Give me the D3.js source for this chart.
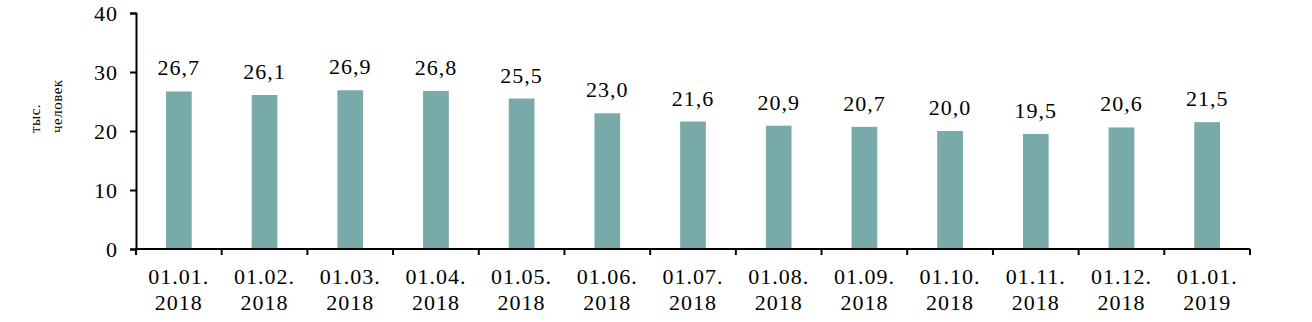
<!DOCTYPE html>
<html>
<head>
<meta charset="utf-8">
<script src="https://cdn.jsdelivr.net/npm/d3@7"></script>
<style>
  body { margin: 0; background: #fff; }
  svg text { font-family: "Times New Roman", "Liberation Serif", Tinos, serif !important; fill: #000; }
</style>
</head>
<body>
<div id="chart"></div>
<script>
// dates (two lines each) and values, thousand people
var dates = ["01.01.", "01.02.", "01.03.", "01.04.", "01.05.", "01.06.", "01.07.", "01.08.", "01.09.", "01.10.", "01.11.", "01.12.", "01.01."];
var years = ["2018", "2018", "2018", "2018", "2018", "2018", "2018", "2018", "2018", "2018", "2018", "2018", "2019"];
var values = [26.7, 26.1, 26.9, 26.8, 25.5, 23.0, 21.6, 20.9, 20.7, 20.0, 19.5, 20.6, 21.5];
var yTicks = [0, 10, 20, 30, 40];

let width = 1312, height = 322;
let plotLeft = 136, plotRight = 1250, plotTop = 13, plotBottom = 249;

let svg = d3.select('#chart')
  .append('svg')
  .attr('width', width)
  .attr('height', height);

let x = d3.scaleBand()
  .domain(d3.range(values.length))
  .range([plotLeft, plotRight])
  .paddingInner(0.7)
  .paddingOuter(0.35);

let y = d3.scaleLinear().domain([0, 40]).range([plotBottom, plotTop]);

/** bars */
svg.selectAll('.bar')
  .data(values)
  .enter()
  .append('rect')
  .attr('class', 'bar')
  .attr('x', (d, i) => x(i))
  .attr('y', d => y(d))
  .attr('width', x.bandwidth())
  .attr('height', d => y(0) - y(d))
  .attr('fill', '#78aaaa');

/** value labels */
svg.selectAll('.val')
  .data(values)
  .enter()
  .append('text')
  .attr('class', 'val')
  .attr('x', (d, i) => x(i) + x.bandwidth() / 2)
  .attr('y', d => y(d) - 16)
  .attr('text-anchor', 'middle')
  .style('font-size', '22px')
  .style('letter-spacing', '1px')
  .text(d => d.toFixed(1).replace('.', ','));

/** y axis */
let yAxis = d3.axisLeft(y).tickValues(yTicks).tickSize(6).tickPadding(12);
let gy = svg.append('g').attr('transform', `translate(${plotLeft},0)`).call(yAxis);
gy.select('.domain').attr('stroke', '#000').attr('stroke-width', 2);
gy.selectAll('.tick line').attr('stroke', '#000').attr('stroke-width', 2);
gy.selectAll('.tick text')
  .style('font-size', '22px')
  .style('letter-spacing', '1px')
  .attr('dy', '0.35em');

/** x axis: ticks at category boundaries */
let step = (plotRight - plotLeft) / values.length;
let xEdges = d3.range(values.length + 1).map(i => plotLeft + i * step);
let gx = svg.append('g');
gx.append('line')
  .attr('x1', plotLeft - 1).attr('x2', plotRight)
  .attr('y1', plotBottom).attr('y2', plotBottom)
  .attr('stroke', '#000').attr('stroke-width', 2);
gx.selectAll('.xt')
  .data(xEdges)
  .enter()
  .append('line')
  .attr('x1', d => d).attr('x2', d => d)
  .attr('y1', plotBottom).attr('y2', plotBottom + 6)
  .attr('stroke', '#000').attr('stroke-width', 2);

let xl = svg.selectAll('.xl')
  .data(dates)
  .enter()
  .append('text')
  .attr('class', 'xl')
  .attr('text-anchor', 'middle')
  .style('font-size', '22px')
  .style('letter-spacing', '1px');
xl.append('tspan')
  .attr('x', (d, i) => x(i) + x.bandwidth() / 2)
  .attr('y', 284)
  .text(d => d);
xl.append('tspan')
  .attr('x', (d, i) => x(i) + x.bandwidth() / 2)
  .attr('y', 310)
  .text((d, i) => years[i]);

/** y axis title */
let yt = svg.append('text')
  .attr('transform', 'translate(40,133) rotate(-90)')
  .attr('text-anchor', 'start')
  .style('font-size', '15px')
  .style('letter-spacing', '0.5px');
yt.append('tspan').attr('x', 0).attr('y', 0).text('тыс.');
yt.append('tspan').attr('x', 0).attr('y', 22).text('человек');
</script>
</body>
</html>
